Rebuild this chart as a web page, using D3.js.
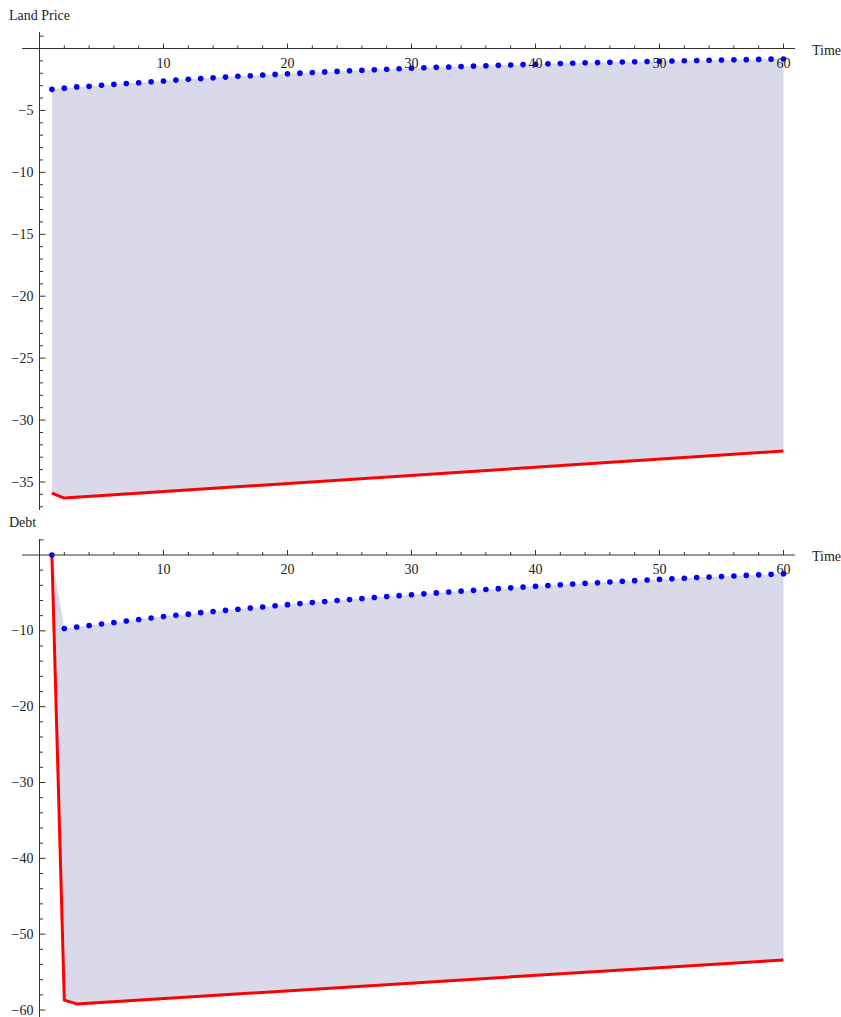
<!DOCTYPE html>
<html><head><meta charset="utf-8">
<script src="https://cdn.jsdelivr.net/npm/d3@7"></script>
<style>body{margin:0;background:#fff}text{font-family:"Liberation Serif","Times New Roman",serif;font-size:14px;fill:#222}</style>
</head><body><svg id="c" width="841" height="1017"></svg>
<script>
const xTicks=[10,20,30,40,50,60];
const landBlue=[-3.3,-3.2,-3.1,-3.05,-2.97,-2.9,-2.83,-2.76,-2.69,-2.62,-2.55,-2.49,-2.43,-2.37,-2.31,-2.25,-2.2,-2.14,-2.09,-2.04,-1.99,-1.94,-1.89,-1.85,-1.8,-1.76,-1.72,-1.68,-1.64,-1.6,-1.56,-1.52,-1.49,-1.45,-1.42,-1.39,-1.36,-1.33,-1.3,-1.27,-1.24,-1.21,-1.19,-1.16,-1.14,-1.11,-1.09,-1.07,-1.05,-1.03,-1.01,-0.99,-0.97,-0.95,-0.93,-0.91,-0.9,-0.88,-0.86,-0.85];
const landRed=[[1,-35.9],[2,-36.3],[60,-32.5]];
const landYTicks=[-5,-10,-15,-20,-25,-30,-35];
const debtBlue=[0,-9.7,-9.5,-9.3,-9.1,-8.9,-8.7,-8.5,-8.3,-8.1,-7.95,-7.8,-7.6,-7.45,-7.3,-7.15,-7.0,-6.85,-6.7,-6.55,-6.4,-6.27,-6.14,-6.0,-5.87,-5.74,-5.61,-5.48,-5.36,-5.24,-5.12,-5.0,-4.88,-4.77,-4.66,-4.55,-4.44,-4.33,-4.23,-4.13,-4.03,-3.93,-3.83,-3.74,-3.65,-3.56,-3.47,-3.38,-3.3,-3.22,-3.14,-3.06,-2.98,-2.9,-2.83,-2.76,-2.69,-2.62,-2.55,-2.48];
const debtRed=[[1,0],[2,-58.7],[3,-59.2],[60,-53.4]];
const debtYTicks=[-10,-20,-30,-40,-50,-60];

const svg=d3.select("#c");
const x=d3.scaleLinear().domain([0,60]).range([39.5,783.5]);
function panel(o){
  const y=d3.scaleLinear().domain(o.yd).range(o.yr);
  const g=svg.append("g");
  const blue=o.blue.map((v,i)=>[i+1,v]);
  const poly=blue.concat(o.red.slice().reverse());
  g.append("path").attr("d",d3.line().x(d=>x(d[0])).y(d=>y(d[1]))(poly)+"Z").attr("fill","#d9d9ea");
  g.append("path").attr("d",d3.line().x(d=>x(d[0])).y(d=>y(d[1]))(o.red)).attr("fill","none").attr("stroke","#ff0000").attr("stroke-width",3).attr("stroke-linejoin","round");
  g.selectAll("circle").data(blue).join("circle").attr("cx",d=>x(d[0])).attr("cy",d=>y(d[1])).attr("r",2.8).attr("fill","#0000ff");
  const y0=y(0), xa=x(0);
  g.append("line").attr("x1",22).attr("x2",795).attr("y1",y0).attr("y2",y0).attr("stroke","#333");
  for(let t=2;t<=60;t+=2){const maj=t%10==0;g.append("line").attr("x1",x(t)).attr("x2",x(t)).attr("y1",y0).attr("y2",y0-(maj?5:3)).attr("stroke","#333");}
  g.selectAll(".xl").data(xTicks).join("text").attr("x",d=>x(d)).attr("y",y0+19).attr("text-anchor","middle").text(d=>d);
  g.append("text").attr("x",812).attr("y",y0+6).text("Time");
  g.append("line").attr("x1",xa).attr("x2",xa).attr("y1",o.top).attr("y2",o.bot).attr("stroke","#333");
  for(let v=-o.minor;v>=o.ymin;v-=o.minor){
    const maj=o.ticks.some(t=>Math.abs(t-v)<1e-9);
    g.append("line").attr("x1",xa).attr("x2",xa+(maj?6:3.5)).attr("y1",y(v)).attr("y2",y(v)).attr("stroke","#333");
  }
  g.append("line").attr("x1",xa).attr("x2",xa+4).attr("y1",y(o.minor)).attr("y2",y(o.minor)).attr("stroke","#333");
  g.selectAll(".yl").data(o.ticks).join("text").attr("x",xa-6).attr("y",d=>y(d)+4.5).attr("text-anchor","end").text(d=>"\u2212"+Math.abs(d));
  g.append("text").attr("x",9).attr("y",o.ly).text(o.label);
}
panel({yd:[0,-35],yr:[48.5,482],ymin:-37,blue:landBlue,red:landRed,ticks:landYTicks,minor:1,top:32,bot:510,label:"Land Price",ly:20});
panel({yd:[0,-60],yr:[555,1010],ymin:-60,blue:debtBlue,red:debtRed,ticks:debtYTicks,minor:2,top:539,bot:1017,label:"Debt",ly:527});
</script></body></html>
